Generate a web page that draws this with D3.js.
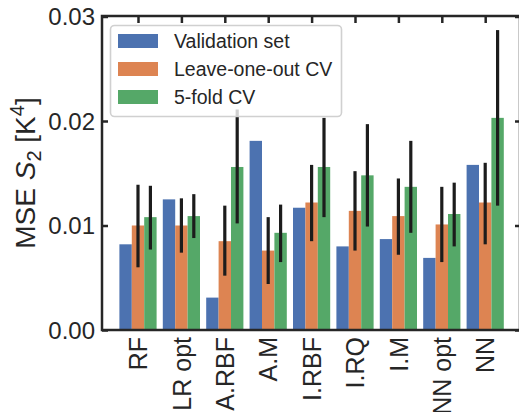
<!DOCTYPE html>
<html>
<head>
<meta charset="utf-8">
<script src="https://cdn.jsdelivr.net/npm/d3@7"></script>
<style>
  html, body { margin: 0; padding: 0; background: #ffffff; }
  svg { display: block; font-family: "Liberation Sans", Arial, sans-serif; }
</style>
</head>
<body>
<svg id="chart" width="519" height="412"></svg>
<script>
// Model names along the x axis
const categories = ["RF", "LR opt", "A.RBF", "A.M", "I.RBF", "I.RQ", "I.M", "NN opt", "NN"];

// Validation-set MSE (no spread)
const validation = [0.0082, 0.0125, 0.0031, 0.0181, 0.0117, 0.0080, 0.0087, 0.0069, 0.0158];

// Leave-one-out CV mean and error-bar extent
const looMean = [0.0100, 0.0100, 0.0085, 0.0076, 0.0122, 0.0114, 0.0109, 0.0101, 0.0122];
const looLow  = [0.0060, 0.0074, 0.0052, 0.0044, 0.0085, 0.0076, 0.0072, 0.0065, 0.0082];
const looHigh = [0.0139, 0.0126, 0.0119, 0.0108, 0.0158, 0.0152, 0.0145, 0.0137, 0.0160];

// 5-fold CV mean and error-bar extent
const kfoldMean = [0.0108, 0.0109, 0.0156, 0.0093, 0.0156, 0.0148, 0.0137, 0.0111, 0.0203];
const kfoldLow  = [0.0077, 0.0088, 0.0102, 0.0065, 0.0108, 0.0099, 0.0093, 0.0080, 0.0119];
const kfoldHigh = [0.0138, 0.0130, 0.0211, 0.0120, 0.0203, 0.0197, 0.0181, 0.0141, 0.0287];

const yTicks = [0.00, 0.01, 0.02, 0.03];
const seriesNames = ["Validation set", "Leave-one-out CV", "5-fold CV"];
const seriesColors = ["#4C72B0", "#DD8452", "#55A868"];

const svg = d3.select("#chart");
const plotL = 102, plotR = 520, plotT = 16, plotB = 330;
const ink = "#262626";
const spineW = 2.5;

const x = d3.scalePoint().domain(categories).range([138, 485.2]);
const y = d3.scaleLinear().domain([0, 0.03]).range([plotB, plotT + 0.5]);
const barW = 12.4;

const series = [
  { name: seriesNames[0], color: seriesColors[0], mean: validation },
  { name: seriesNames[1], color: seriesColors[1], mean: looMean, lo: looLow, hi: looHigh },
  { name: seriesNames[2], color: seriesColors[2], mean: kfoldMean, lo: kfoldLow, hi: kfoldHigh }
];

// Bars
series.forEach((s, si) => {
  const off = (si - 1.5) * barW;
  svg.append("g").selectAll("rect")
    .data(categories.map((c, i) => ({ c, v: s.mean[i] })))
    .join("rect")
    .attr("x", d => x(d.c) + off)
    .attr("width", barW)
    .attr("y", d => y(d.v))
    .attr("height", d => y(0) - y(d.v))
    .attr("fill", s.color);
});

// Error bars
series.forEach((s, si) => {
  if (!s.lo) return;
  const cx = (si - 1) * barW;
  svg.append("g").selectAll("line")
    .data(categories.map((c, i) => ({ c, lo: s.lo[i], hi: s.hi[i] })))
    .join("line")
    .attr("x1", d => x(d.c) + cx)
    .attr("x2", d => x(d.c) + cx)
    .attr("y1", d => y(d.lo))
    .attr("y2", d => y(d.hi))
    .attr("stroke", "#1c1c1c")
    .attr("stroke-width", 3.2);
});

// Axes
const fontSize = 24;
const gy = svg.append("g").attr("transform", `translate(${plotL},0)`)
  .call(d3.axisLeft(y).tickValues(yTicks).tickFormat(d3.format(".2f")).tickSizeInner(-6).tickSizeOuter(0).tickPadding(7));
const gr = svg.append("g").attr("transform", `translate(${plotR},0)`)
  .call(d3.axisRight(y).tickValues(yTicks).tickFormat("").tickSizeInner(-5).tickSizeOuter(0));
const gt = svg.append("g").attr("transform", `translate(0,${plotT})`)
  .call(d3.axisTop(x).tickFormat("").tickSizeInner(-7).tickSizeOuter(0));
const gx = svg.append("g").attr("transform", `translate(0,${plotB})`)
  .call(d3.axisBottom(x).tickSizeInner(0).tickSizeOuter(0).tickPadding(8));

[gy, gr, gt, gx].forEach(g => {
  g.select(".domain").remove();
  g.selectAll(".tick line").attr("stroke", ink).attr("stroke-width", spineW);
  g.selectAll("text").attr("fill", ink).attr("font-size", fontSize)
    .attr("font-family", "Liberation Sans, Arial, sans-serif");
});
gy.selectAll("text").attr("dy", "0.35em");

gx.selectAll(".tick text")
  .attr("font-size", 25)
  .attr("text-anchor", "end")
  .attr("transform", "rotate(-90)")
  .attr("x", -7)
  .attr("y", 0)
  .attr("dy", "0.35em");

// Spines
svg.append("rect")
  .attr("x", plotL).attr("y", plotT)
  .attr("width", plotR - plotL).attr("height", plotB - plotT)
  .attr("fill", "none").attr("stroke", ink).attr("stroke-width", spineW);

// Y axis label
const yl = svg.append("text")
  .attr("transform", `translate(35,${(plotT + plotB) / 2}) rotate(-90)`)
  .attr("text-anchor", "middle")
  .attr("font-size", 28)
  .attr("fill", ink);
yl.append("tspan").text("MSE ");
yl.append("tspan").attr("font-style", "italic").text("S");
yl.append("tspan").attr("font-size", 20).attr("dy", 6).text("2");
yl.append("tspan").attr("dy", -6).text(" [K");
yl.append("tspan").attr("font-size", 20).attr("dy", -11).text("4");
yl.append("tspan").attr("dy", 11).text("]");

// Legend
const lg = svg.append("g").attr("transform", "translate(110,25)");
lg.append("rect")
  .attr("x", 0.5).attr("y", 0.5).attr("width", 231).attr("height", 91)
  .attr("rx", 4)
  .attr("fill", "#ffffff").attr("fill-opacity", 0.8)
  .attr("stroke", "#d0d0d0").attr("stroke-width", 1.6);
const rows = lg.selectAll("g.row").data(series).join("g")
  .attr("transform", (d, i) => `translate(0,${9 + i * 28})`);
rows.append("rect")
  .attr("x", 8).attr("y", 0).attr("width", 40).attr("height", 14)
  .attr("fill", d => d.color);
rows.append("text")
  .attr("x", 64).attr("y", 7).attr("dy", "0.35em")
  .attr("font-size", 19.5).attr("fill", ink)
  .text(d => d.name);
</script>
</body>
</html>
